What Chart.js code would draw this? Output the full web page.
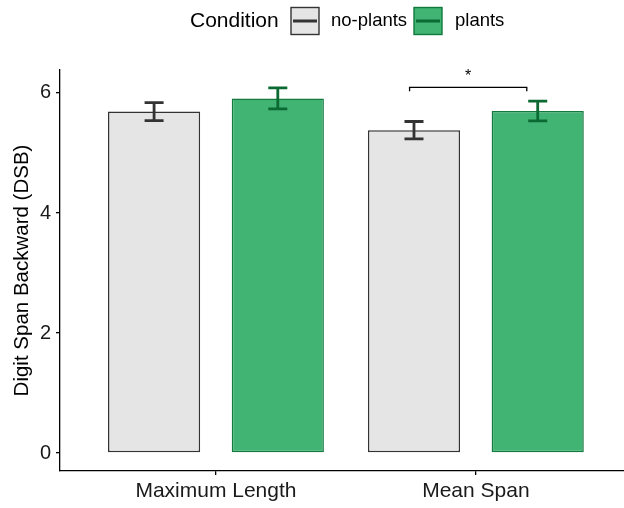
<!DOCTYPE html>
<html>
<head>
<meta charset="utf-8">
<script src="https://cdn.jsdelivr.net/npm/chart.js@4.4.1/dist/chart.umd.min.js"></script>
<style>
  html, body { margin: 0; padding: 0; background: #fff; }
  #box { width: 624px; height: 508px; }
</style>
</head>
<body>
<div id="box"><canvas id="grafico" width="624" height="508"></canvas></div>
<script>
// dados
var categorias = ["Maximum Length", "Mean Span"];
var posicoes = [1, 2];
var condicoes = ["no-plants", "plants"];
var media_sem_plantas = [5.69, 5.38];
var media_plantas = [5.91, 5.70];
var erro_sem_plantas = [0.15, 0.145];
var erro_plantas = [0.175, 0.165];
var ticks_y = [0, 2, 4, 6];
// colchete de significancia (Mean Span)
var sig_x = [1.745, 2.196];
var sig_y = 6.095;
var sig_texto = "*";

var fonte = "'Liberation Sans', Arial, Helvetica, sans-serif";

var cor_cinza = "#e5e5e5";
var borda_cinza = "#333333";
var cor_verde = "#41b373";
var borda_verde = "#137a3d";
var erro_verde = "#0b6a31";

function pontos(valores) {
	return valores.map(function (v, i) {
		return { x: posicoes[i], y: v };
	});
}

var erros = [erro_sem_plantas, erro_plantas];
var medias = [media_sem_plantas, media_plantas];
var cores_erro = [borda_cinza, erro_verde];

var pluginErros = {
	id: "barrasErro",
	afterDatasetsDraw: function (chart) {
		var ctx = chart.ctx;
		var y = chart.scales.y;
		ctx.save();
		ctx.lineWidth = 2.8;
		ctx.lineCap = "butt";
		for (var d = 0; d < chart.data.datasets.length; d++) {
			var meta = chart.getDatasetMeta(d);
			ctx.strokeStyle = cores_erro[d];
			meta.data.forEach(function (barra, i) {
				var cx = barra.x;
				var topo = y.getPixelForValue(medias[d][i] + erros[d][i]);
				var base = y.getPixelForValue(medias[d][i] - erros[d][i]);
				ctx.beginPath();
				ctx.moveTo(cx, topo);
				ctx.lineTo(cx, base);
				ctx.moveTo(cx - 9.5, topo);
				ctx.lineTo(cx + 9.5, topo);
				ctx.moveTo(cx - 9.5, base);
				ctx.lineTo(cx + 9.5, base);
				ctx.stroke();
			});
		}
		ctx.restore();
	}
};

var pluginSignificancia = {
	id: "significancia",
	afterDatasetsDraw: function (chart) {
		var ctx = chart.ctx;
		var x = chart.scales.x;
		var y = chart.scales.y;
		var x1 = x.getPixelForValue(sig_x[0]);
		var x2 = x.getPixelForValue(sig_x[1]);
		var yy = y.getPixelForValue(sig_y);
		ctx.save();
		ctx.strokeStyle = "#000";
		ctx.lineWidth = 1.3;
		ctx.beginPath();
		ctx.moveTo(x1, yy + 4);
		ctx.lineTo(x1, yy);
		ctx.lineTo(x2, yy);
		ctx.lineTo(x2, yy + 4);
		ctx.stroke();
		ctx.fillStyle = "#000";
		ctx.font = "16px " + fonte;
		ctx.textAlign = "center";
		ctx.textBaseline = "middle";
		ctx.fillText(sig_texto, (x1 + x2) / 2, yy - 11);
		ctx.restore();
	}
};

var pluginLegenda = {
	id: "legendaCondicao",
	afterDraw: function (chart) {
		var ctx = chart.ctx;
		ctx.save();
		ctx.fillStyle = "#000";
		ctx.textBaseline = "middle";
		ctx.textAlign = "left";
		ctx.font = "21px " + fonte;
		ctx.fillText("Condition", 190, 21);

		var caixas = [
			{ x: 291, fundo: cor_cinza, borda: borda_cinza, linha: borda_cinza, texto: condicoes[0], tx: 331 },
			{ x: 414, fundo: cor_verde, borda: borda_verde, linha: erro_verde, texto: condicoes[1], tx: 455 }
		];
		caixas.forEach(function (c) {
			ctx.fillStyle = c.fundo;
			ctx.fillRect(c.x, 7.5, 28, 27);
			ctx.strokeStyle = c.borda;
			ctx.lineWidth = 1.4;
			ctx.strokeRect(c.x, 7.5, 28, 27);
			ctx.strokeStyle = c.linha;
			ctx.lineWidth = 3;
			ctx.beginPath();
			ctx.moveTo(c.x + 2, 21);
			ctx.lineTo(c.x + 26, 21);
			ctx.stroke();
			ctx.fillStyle = "#000";
			ctx.font = "18.5px " + fonte;
			ctx.fillText(c.texto, c.tx, 21);
		});
		ctx.restore();
	}
};

var grafico = new Chart(document.getElementById("grafico"), {
	type: "bar",
	data: {
		datasets: [
			{
				label: condicoes[0],
				data: pontos(media_sem_plantas),
				backgroundColor: cor_cinza,
				borderColor: borda_cinza,
				borderWidth: 1.5,
				borderSkipped: false,
				categoryPercentage: 0.952,
				barPercentage: 0.745
			},
			{
				label: condicoes[1],
				data: pontos(media_plantas),
				backgroundColor: cor_verde,
				borderColor: borda_verde,
				borderWidth: 1.5,
				borderSkipped: false,
				categoryPercentage: 0.952,
				barPercentage: 0.745
			}
		]
	},
	options: {
		responsive: false,
		animation: false,
		layout: {
			padding: { top: 70, right: 0, bottom: 0, left: 0 }
		},
		scales: {
			x: {
				type: "linear",
				min: 0.4,
				max: 2.57,
				offset: false,
				afterBuildTicks: function (s) {
					s.ticks = posicoes.map(function (p) { return { value: p }; });
				},
				afterFit: function (s) {
					s.height = 37;
				},
				ticks: {
					callback: function (v) {
						return categorias[posicoes.indexOf(v)];
					},
					color: "#1a1a1a",
					font: { family: fonte, size: 21 },
					padding: 4,
					maxRotation: 0
				},
				grid: {
					display: true,
					offset: false,
					drawOnChartArea: false,
					drawTicks: true,
					tickLength: 4,
					color: "#000",
					lineWidth: 1.3
				},
				border: { display: true, color: "#000", width: 1.3 }
			},
			y: {
				min: -0.3,
				max: 6.383,
				afterBuildTicks: function (s) {
					s.ticks = ticks_y.map(function (t) { return { value: t }; });
				},
				afterFit: function (s) {
					s.width = 60;
				},
				ticks: {
					color: "#1a1a1a",
					font: { family: fonte, size: 20 },
					padding: 5
				},
				grid: {
					display: true,
					drawOnChartArea: false,
					drawTicks: true,
					tickLength: 4,
					color: "#000",
					lineWidth: 1.3
				},
				border: { display: true, color: "#000", width: 1.3 },
				title: {
					display: true,
					text: "Digit Span Backward (DSB)",
					color: "#000",
					font: { family: fonte, size: 20.5 },
					padding: { top: 10, bottom: 0 }
				}
			}
		},
		plugins: {
			legend: { display: false },
			tooltip: { enabled: false }
		}
	},
	plugins: [pluginErros, pluginSignificancia, pluginLegenda]
});
</script>
</body>
</html>
